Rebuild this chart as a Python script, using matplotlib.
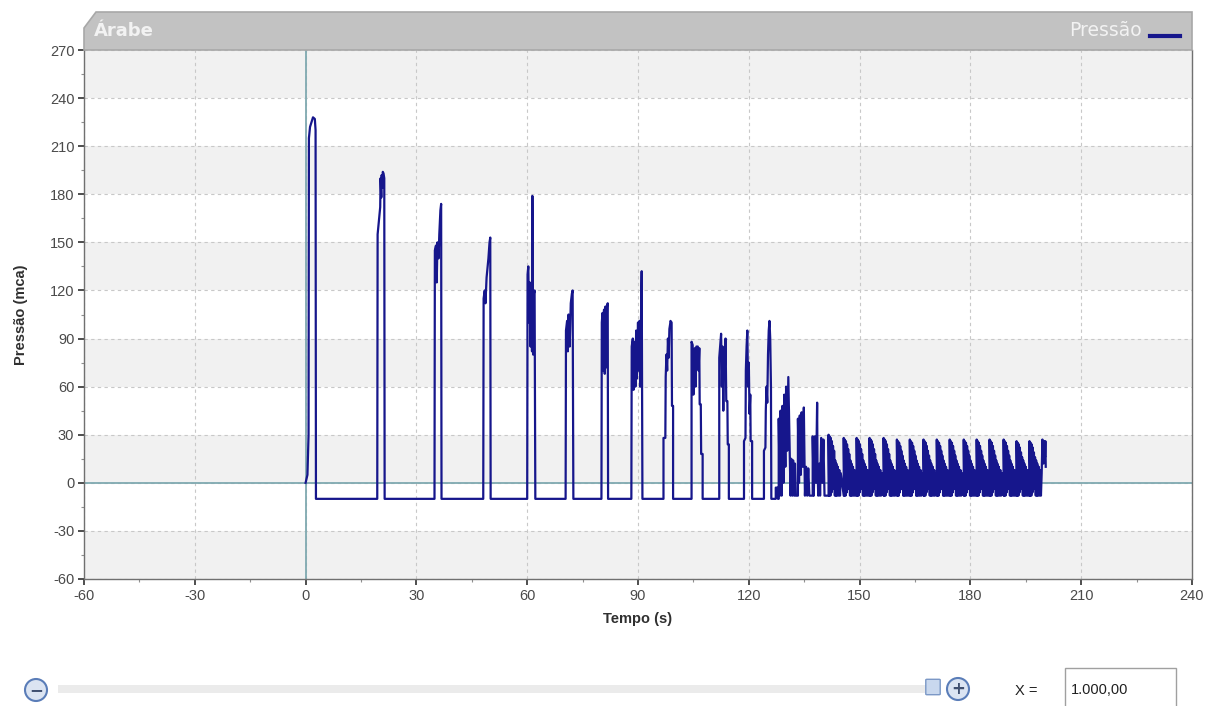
import numpy as np
import matplotlib
matplotlib.use("Agg")
import matplotlib.pyplot as plt
from matplotlib.patches import Polygon, Rectangle, Ellipse, FancyBboxPatch
from matplotlib.lines import Line2D

plt.rcParams['font.family'] = ['Liberation Sans', 'DejaVu Sans']
plt.rcParams['axes.unicode_minus'] = False

# ---- pressure trace: pulses (time s, pressure mca) ----
pulse_t = [0.0, 0.5, 0.8, 0.9, 1.2, 1.6, 2.0, 2.5, 2.7, 2.8,
           19.4, 19.5, 19.8, 20.0, 20.2, 20.3, 20.5, 20.6, 20.8, 20.9, 21.1, 21.3, 21.4,
           34.9, 35.0, 35.3, 35.5, 35.7, 36.0, 36.2, 36.5, 36.7, 36.8,
           48.1, 48.2, 48.5, 48.7, 49.0, 49.3, 49.5, 49.8, 50.0, 50.1,
           60.0, 60.1, 60.3, 60.5, 60.7, 60.9, 61.1, 61.3, 61.4, 61.6, 61.8, 62.0, 62.2,
           70.4, 70.5, 70.8, 71.0, 71.2, 71.5, 71.8, 72.1, 72.3, 72.5,
           80.1, 80.2, 80.4, 80.6, 80.8, 81.0, 81.2, 81.4, 81.6, 81.8, 81.9,
           88.2, 88.3, 88.6, 88.8, 89.0, 89.3, 89.5, 89.7, 90.0, 90.2, 90.4, 90.6, 90.8, 91.0, 91.2,
           96.9, 96.9, 97.4, 97.5, 97.7, 97.9, 98.1, 98.3, 98.5, 98.7, 98.8, 99.1, 99.2, 99.5, 99.5,
           104.5, 104.5, 104.8, 105.0, 105.2, 105.4, 105.6, 105.8, 106.2, 106.4, 106.6, 106.7, 107.0, 107.1, 107.5, 107.5,
           112.0, 112.0, 112.5, 112.7, 112.9, 113.1, 113.3, 113.5, 113.7, 113.9, 114.2, 114.3, 114.6, 114.6,
           118.7, 118.7, 119.1, 119.2, 119.4, 119.6, 119.8, 120.0, 120.2, 120.4, 120.5, 120.9, 120.9,
           124.1, 124.1, 124.5, 124.6, 124.8, 125.0, 125.2, 125.4, 125.6, 125.8, 126.0, 126.1,
           127.3, 127.3, 127.9, 127.9,
           128.1, 128.1, 128.4, 128.6, 128.9, 129.1, 129.4, 129.6, 129.9, 130.1, 130.4, 130.7, 131.0,
           131.1, 131.3, 131.5, 131.8, 132.0, 132.3, 132.5, 132.7, 133.3,
           133.3, 133.6, 133.8, 134.1, 134.3, 134.6, 134.9, 135.1, 135.2, 135.5, 135.8, 136.1, 136.4, 137.3,
           137.3, 137.6, 137.9, 138.2, 138.5, 138.6, 138.8, 139.1, 139.3, 139.6, 139.9, 140.2, 140.5, 141.6]
pulse_p = [0, 5, 30, 215, 222, 225, 228, 227, 220, -10,
           -10, 155, 162, 166, 172, 190, 178, 192, 184, 194, 193, 190, -10,
           -10, 145, 148, 125, 150, 140, 155, 170, 174, -10,
           -10, 115, 120, 112, 128, 135, 140, 150, 153, -10,
           -10, 130, 135, 100, 125, 85, 118, 82, 179, 80, 118, 120, -10,
           -10, 95, 101, 82, 105, 85, 112, 118, 120, -10,
           -10, 100, 106, 70, 108, 68, 110, 72, 110, 112, -10,
           -10, 85, 90, 58, 88, 60, 95, 65, 100, 70, 101, 60, 100, 132, -10,
           -10, 28, 28, 66, 80, 70, 90, 78, 96, 99, 101, 100, 48, 48, -10,
           -10, 88, 86, 55, 80, 84, 60, 85, 85, 70, 84, 49, 49, 18, 18, -10,
           -10, 78, 93, 60, 85, 45, 80, 70, 90, 51, 51, 24, 24, -10,
           -10, 26, 28, 70, 85, 95, 60, 75, 43, 55, 26, 26, -10,
           -10, 20, 22, 45, 60, 50, 80, 95, 101, 90, 60, -10,
           -10, -3, -3, -10,
           -10, 40, -8, 45, -8, 48, 0, 55, 10, 60, 20, 66, 30,
           15, -8, 15, -8, 14, -8, 12, -8, -8,
           40, 0, 42, 5, 44, 10, 47, 10, -8, 10, -8, 9, -8, -8,
           29, -8, 29, 0, 50, 10, -8, 12, -8, 28, 0, 27, -8, -8]

# ---- regular oscillation after 141 s: peak time and top value of each cycle ----
osc_peak_t = [141.6, 145.7, 149.2, 152.7, 156.5, 160.1, 163.6, 167.3,
              170.9, 174.4, 178.2, 181.7, 185.2, 189.0, 192.5, 196.0]
osc_peak_p = [30, 28, 28, 28, 28, 27, 27, 27, 27, 27, 27, 27, 27, 27, 26, 26]
# one cycle: offset from peak time, pressure,
# and whether the pressure is measured down from the cycle top
cycle_dt = [0.0, 0.0, 0.2, 0.3, 0.5, 0.6, 0.8, 0.9, 1.1, 1.2, 1.4, 1.5,
            1.7, 1.8, 2.0, 2.1, 2.3, 2.5, 2.7, 2.9, 3.1, 3.3]
cycle_p = [-8, 0, -8, -1, -8, -2, -6, -4, -4, -7, -2, -10,
           -8, 14, -8, 12, -8, 10, -8, 8, -8, 6]
cycle_from_top = [False, True, False, True, False, True, False, True, False, True, False, True,
                  False, False, False, False, False, False, False, False, False, False]
tail_t = [199.5, 199.8, 199.9, 200.2, 200.3, 200.4]
tail_p = [27, 12, 26, 16, 26, 10]

W, H = 1219, 706


def fx(x):
    return x / W


def fy(y):
    return 1 - y / H


def build_trace():
    t = list(pulse_t)
    p = list(pulse_p)
    for tp, top in zip(osc_peak_t, osc_peak_p):
        for dt, v, rel in zip(cycle_dt, cycle_p, cycle_from_top):
            t.append(tp + dt)
            p.append(top + v if rel else v)
    t += tail_t
    p += tail_p
    return np.array(t), np.array(p)


def main():
    t, p = build_trace()

    fig = plt.figure(figsize=(W / 100, H / 100), dpi=100)
    ax = fig.add_axes([fx(84), fy(579), fx(1192) - fx(84), fy(50) - fy(579)])

    # alternating bands
    for lo in [-60, 0, 60, 120, 180, 240]:
        ax.axhspan(lo, lo + 30, color='#f1f1f1', zorder=0, lw=0)

    ax.set_xlim(-60, 240)
    ax.set_ylim(-60, 270)
    ax.set_xticks(np.arange(-60, 241, 30))
    ax.set_yticks(np.arange(-60, 271, 30))
    ax.set_xticks(np.arange(-45, 240, 30), minor=True)
    ax.set_yticks(np.arange(-45, 270, 30), minor=True)
    ax.grid(True, which='major', ls=(0, (3, 3)), color='#c8c8c8', lw=0.8, zorder=1)
    ax.tick_params(which='major', length=4, width=1.2, color='#303030',
                   labelsize=10.5, labelcolor='#4a4a4a', pad=3)
    ax.tick_params(which='minor', length=2, width=0.8, color='#909090')
    for s in ['left', 'bottom', 'right']:
        ax.spines[s].set_color('#707070')
        ax.spines[s].set_linewidth(1.0)
    ax.spines['top'].set_visible(False)

    ax.axhline(0, color='#7fa9b0', lw=1.3, zorder=2)
    ax.axvline(0, color='#7fa9b0', lw=1.3, zorder=2)

    ax.plot(t, p, color='#16168c', lw=1.6, zorder=3)

    ax.set_xlabel('Tempo (s)', fontsize=10.5, fontweight='bold', color='#303030', labelpad=7)
    ax.set_ylabel('Pressão (mca)', fontsize=10.5, fontweight='bold', color='#303030', labelpad=16)

    # header band
    hdr = Polygon([(fx(84), fy(50)), (fx(84), fy(28)), (fx(96), fy(12)),
                   (fx(1192), fy(12)), (fx(1192), fy(50))],
                  closed=True, transform=fig.transFigure, facecolor='#c2c2c2',
                  edgecolor='#a8a8a8', lw=1.2)
    fig.add_artist(hdr)
    fig.text(fx(94), fy(31), 'Árabe', fontsize=13, fontweight='bold', color='#f2f2f2',
             va='center', ha='left', family=['DejaVu Sans'])
    fig.text(fx(1142), fy(31), 'Pressão', fontsize=13.5, color='#f2f2f2',
             va='center', ha='right', family=['DejaVu Sans'])
    fig.add_artist(Line2D([fx(1150), fx(1180)], [fy(36), fy(36)], color='#16168c',
                          lw=3, transform=fig.transFigure))

    # zoom slider controls
    fig.add_artist(Rectangle((fx(58), fy(693)), fx(930) - fx(58), fy(685) - fy(693),
                             transform=fig.transFigure, facecolor='#ebebeb', edgecolor='none'))
    for cx, cy, sign in [(36, 690, '−'), (958, 689, '+')]:
        fig.add_artist(Ellipse((fx(cx), fy(cy)), 22 / W, 22 / H, transform=fig.transFigure,
                               facecolor='#dbe4f2', edgecolor='#5a7db8', lw=1.5))
        fig.text(fx(cx), fy(cy), sign, fontsize=12, fontweight='bold', color='#405070',
                 ha='center', va='center', family=['DejaVu Sans'])
    fig.add_artist(FancyBboxPatch((fx(927), fy(694)), 12 / W, 14 / H,
                                  boxstyle='round,pad=0.001', transform=fig.transFigure,
                                  facecolor='#c9d8ee', edgecolor='#7b98c6', lw=1))
    fig.text(fx(1015), fy(691), 'X =', fontsize=10.5, color='#202020', va='center', ha='left')
    fig.add_artist(Rectangle((fx(1065), fy(710)), fx(1176) - fx(1065), fy(668) - fy(710),
                             transform=fig.transFigure, facecolor='white', edgecolor='#a0a0a0', lw=1))
    fig.text(fx(1071), fy(690), '1.000,00', fontsize=10.5, color='#202020', va='center', ha='left')

    fig.savefig('out.png', dpi=100)


if __name__ == '__main__':
    main()
